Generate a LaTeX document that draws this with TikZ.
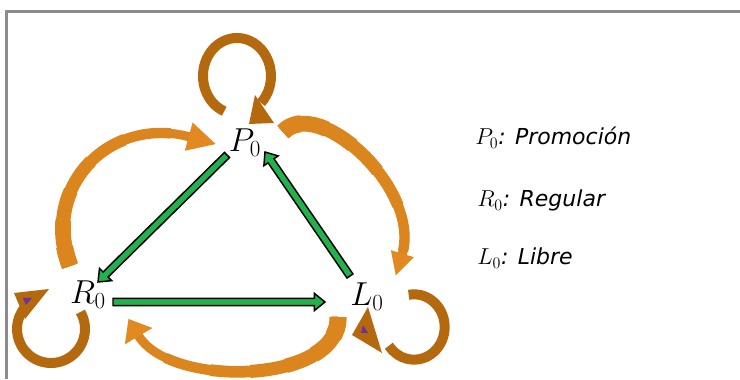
\documentclass[tikz,border=0pt]{standalone}
\usepackage{fontspec}
\newfontfamily\legendfont{DejaVu Sans}
\usetikzlibrary{calc,decorations.markings}
\DeclareMathSizes{24}{24}{19}{14}
\DeclareMathSizes{16.5}{16.5}{12.5}{9}
\definecolor{garrow}{HTML}{22B14C}
\definecolor{oarc}{HTML}{DB851F}
\definecolor{oloop}{HTML}{B5690F}
\definecolor{ohd}{HTML}{E28A21}
\definecolor{frameg}{HTML}{8C8C8C}
\definecolor{purp}{HTML}{7030A0}
\tikzset{
  greenfill/.style={fill=garrow, draw=black, line width=1.1pt, line join=miter},
  loopband/.style={draw=oloop, line width=7.5pt},
  loophead/.style={fill=oloop},
  arrowhd/.style 2 args={postaction={decorate, decoration={markings,
      mark=at position 0.9999 with {\fill[ohd] (-1pt,#1) -- (#2,0pt) -- (-1pt,-#1) -- cycle;}}}},
  statelabel/.style={font=\fontsize{24}{28}\selectfont, inner sep=0pt},
  legendlabel/.style={font=\fontsize{16.5}{20}\selectfont, anchor=base west, inner sep=0pt},
  tapered/.style={draw=oarc, dash pattern=on #1 off 2000pt},
}
\newcommand\legtext[1]{{\legendfont\fontsize{16.5}{20}\selectfont\itshape #1}}
\newcommand\garrow[2]{%
  \path ($(#2)!8pt!(#1)$) coordinate (hb-#1);
  \filldraw[greenfill] ($(#1)!2.7pt!90:(#2)$) -- ($(hb-#1)!2.7pt!-90:(#1)$)
    -- ($(hb-#1)!6.5pt!-90:(#1)$) -- (#2) -- ($(hb-#1)!6.5pt!90:(#1)$)
    -- ($(hb-#1)!2.7pt!90:(#1)$) -- ($(#1)!2.7pt!-90:(#2)$) -- cycle;}
% tapered curved arrow: #1 head half width, #2 head length, #3 path
\newcommand\taperarc[3]{%
  \draw[draw=oarc, line width=6.8pt, arrowhd={#1}{#2}] #3;
  \draw[tapered=150pt, line width=7.8pt] #3;
  \draw[tapered=115pt, line width=8.8pt] #3;
  \draw[tapered=85pt, line width=9.8pt] #3;
  \draw[tapered=58pt, line width=10.8pt] #3;
  \draw[tapered=35pt, line width=11.8pt] #3;
  \draw[tapered=15pt, line width=12.8pt] #3;}
\begin{document}
\begin{tikzpicture}[x=0.75pt,y=0.75pt]
\useasboundingbox (0,0) rectangle (740,379);
\fill[white] (0,0) rectangle (740,379);
\draw[frameg, line width=2.2pt] (6.5,0) -- (6.5,367.5) -- (740,367.5);

% state labels
\node[statelabel] (P) at (245,236) {$P_0$};
\node[statelabel] (R) at (88,84) {$R_0$};
\node[statelabel] (L) at (367,82) {$L_0$};

% legend
\node[legendlabel] (lgP) at (475,234) {$P_0$\legtext{: Promoción}};
\node[legendlabel] (lgR) at (477,172) {$R_0$\legtext{: Regular}};
\node[legendlabel] (lgL) at (477,114) {$L_0$\legtext{: Libre}};

% green arrows
\coordinate (pr1) at (227,224); \coordinate (pr2) at (98,97);
\coordinate (lp1) at (350,103); \coordinate (lp2) at (265,227);
\coordinate (rl1) at (113,77);  \coordinate (rl2) at (325,77);
\garrow{pr1}{pr2}
\garrow{lp1}{lp2}
\garrow{rl1}{rl2}

% big orange arcs (tapered)
\coordinate (rp1) at (70,113);  \coordinate (rp2) at (190,242);
\coordinate (pl1) at (283,247); \coordinate (pl2) at (402,124);
\coordinate (lr1) at (338,62);  \coordinate (lr2) at (138,44);
\taperarc{11pt}{20pt}{(rp1) .. controls (40,192) and (110,264) .. (rp2)}
\taperarc{9pt}{16pt}{(pl1) .. controls (318,284) and (422,190) .. (pl2)}
\taperarc{12pt}{14pt}{(lr1) .. controls (340,-5) and (170,-10) .. (lr2)}

% self loop at P
\coordinate (pc) at (237,303);
\draw[loopband] (pc) ++(248:25.5pt and 28.5pt) coordinate (pp1)
  arc[start angle=248, end angle=-45, x radius=25.5pt, y radius=28.5pt] coordinate (pp2);
\fill[loophead] (255,284) -- (274,256) -- (249,255) -- cycle;

% self loop at R
\coordinate (rc) at (51,50);
\draw[loopband] (rc) ++(30:25.5pt) coordinate (rr1)
  arc[start angle=30, end angle=-220, radius=25.5pt] coordinate (rr2);
\fill[loophead] (14,86) -- (25,60) -- (49,90) -- cycle;
\fill[purp] (23,81) -- (32,81) -- (26,74) -- cycle;

% self loop at L
\coordinate (lc) at (414,52);
\draw[loopband] (lc) ++(100:23pt and 24.5pt) coordinate (ll1)
  arc[start angle=100, end angle=-145, x radius=23pt, y radius=24.5pt] coordinate (ll2);
\fill[loophead] (352,44) -- (382,26) -- (368,72) -- cycle;
\fill[purp] (363,54) -- (368,46) -- (361,46) -- cycle;
\end{tikzpicture}
\end{document}
